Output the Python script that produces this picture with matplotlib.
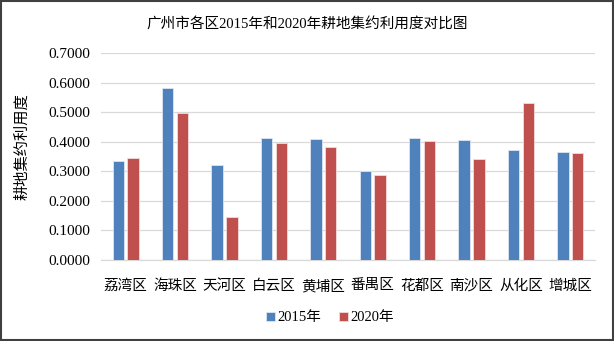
import matplotlib
matplotlib.use("Agg")
import matplotlib.pyplot as plt
import numpy as np
from matplotlib.patches import Rectangle

plt.rcParams['font.family'] = ['Liberation Serif', 'Noto Sans CJK SC']

districts = ['荔湾区', '海珠区', '天河区', '白云区', '黄埔区', '番禺区', '花都区', '南沙区', '从化区', '增城区']
values_2015 = [0.335, 0.582, 0.322, 0.414, 0.409, 0.300, 0.412, 0.405, 0.372, 0.365]
values_2020 = [0.344, 0.497, 0.144, 0.395, 0.383, 0.286, 0.403, 0.342, 0.530, 0.362]
series_names = ['2015年', '2020年']
yticks = [0.0, 0.1, 0.2, 0.3, 0.4, 0.5, 0.6, 0.7]

fig = plt.figure(figsize=(6.14, 3.41), dpi=100)
ax = fig.add_axes([101/614, 1-260/341, 494/614, 207/341])

x = np.arange(len(districts))
w = 0.23
ax.bar(x - 0.15, values_2015, w, color='#4F81BD', edgecolor='#DCE6F2', linewidth=0.6, label=series_names[0], zorder=3)
ax.bar(x + 0.15, values_2020, w, color='#C0504D', edgecolor='#F2DCDB', linewidth=0.6, label=series_names[1], zorder=3)

ax.set_xlim(-0.5, len(districts) - 0.5)
ax.set_ylim(0, 0.7)
ax.set_yticks(yticks)
ax.set_yticklabels([f'{v:.4f}' for v in yticks], fontsize=11)
ax.set_xticks(x)
ax.set_xticklabels(districts, fontsize=10.5)
ax.tick_params(axis='both', length=0, colors='#000000')
ax.tick_params(axis='x', pad=14)
ax.tick_params(axis='y', pad=8)
ax.yaxis.grid(True, color='#D9D9D9', linewidth=0.9, zorder=0)
for s in ['top', 'right', 'left']:
    ax.spines[s].set_visible(False)
ax.spines['bottom'].set_color('#D9D9D9')
ax.spines['bottom'].set_linewidth(0.9)

ax.set_ylabel('耕地集约利用度', fontsize=11)
ax.yaxis.set_label_coords(-0.145, 0.55)

fig.text(0.5, 1-25/341, '广州市各区2015年和2020年耕地集约利用度对比图', ha='center', va='center', fontsize=10.5)

leg = fig.legend(loc='center', bbox_to_anchor=(330/614, 1-318/341), ncol=2, frameon=False,
                 fontsize=10.5, handlelength=0.6, handleheight=0.6, handletextpad=0.2, columnspacing=1.2)

fig.patches.append(Rectangle((0.002, 0.003), 0.996, 0.994, transform=fig.transFigure,
                             fill=False, edgecolor='#404040', linewidth=1.5))

fig.savefig('out.png', dpi=100)
